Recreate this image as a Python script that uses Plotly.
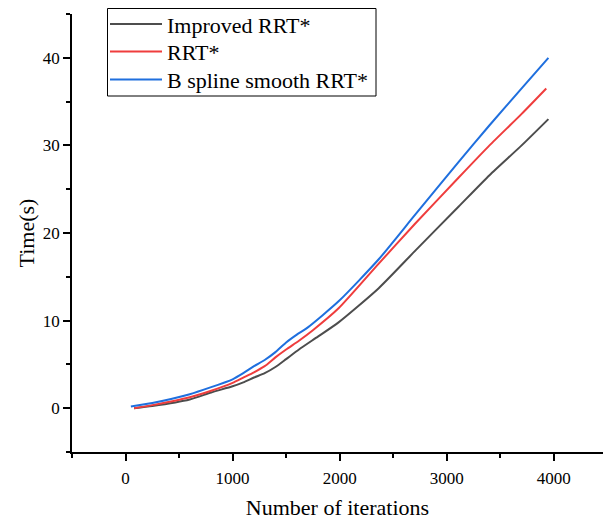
import plotly.graph_objects as go

# Data
improved_x = [80, 250, 600, 800, 1000, 1100, 1200, 1300, 1400, 1500, 1620, 1800, 1990, 2365, 2700, 3110, 3400, 3700, 3950]
improved_y = [0.0, 0.25, 1.0, 1.8, 2.5, 2.95, 3.5, 4.0, 4.7, 5.6, 6.7, 8.2, 9.8, 13.7, 17.9, 23.0, 26.6, 30.0, 33.0]

rrt_x = [80, 250, 600, 800, 1000, 1100, 1200, 1300, 1400, 1500, 1620, 1750, 1990, 2365, 2700, 3110, 3400, 3700, 3930]
rrt_y = [0.0, 0.35, 1.25, 2.0, 2.9, 3.5, 4.1, 4.8, 5.8, 6.7, 7.7, 8.9, 11.4, 16.5, 21.0, 26.3, 30.0, 33.6, 36.5]

bspline_x = [50, 250, 600, 800, 1000, 1100, 1200, 1300, 1400, 1500, 1600, 1700, 1990, 2365, 2700, 3110, 3400, 3700, 3950]
bspline_y = [0.2, 0.6, 1.6, 2.4, 3.3, 4.0, 4.8, 5.5, 6.4, 7.5, 8.4, 9.2, 12.2, 17.0, 22.0, 28.1, 32.3, 36.5, 40.0]

series_names = ["Improved RRT*", "RRT*", "B spline smooth RRT*"]
series_x = [improved_x, rrt_x, bspline_x]
series_y = [improved_y, rrt_y, bspline_y]
series_colors = ["#4d4d4d", "#ef3d3d", "#1f6fde"]

FONT = "Liberation Serif"

# plot-area geometry in pixels (used for the hand-made legend box)
W, H = 603, 524
ML, MR, MT, MB = 72, 0, 14, 72
PW, PH = W - ML - MR, H - MT - MB


def px(xp):
    return (xp - ML) / PW


def py(yp):
    return (H - MB - yp) / PH


fig = go.Figure()
for name, xs, ys, color in zip(series_names, series_x, series_y, series_colors):
    fig.add_trace(go.Scatter(
        x=xs, y=ys, name=name, mode="lines", showlegend=False,
        line=dict(color=color, width=2, shape="spline", smoothing=0.6),
    ))

# Legend drawn as a framed box with line samples and text
shapes = [dict(type="rect", xref="paper", yref="paper",
               x0=px(107.5), x1=px(376), y0=py(96), y1=py(8.5),
               line=dict(color="black", width=1), fillcolor="white", layer="above")]
annotations = []
row_y = [24, 51.5, 79.5]
for name, color, yr in zip(series_names, series_colors, row_y):
    shapes.append(dict(type="line", xref="paper", yref="paper",
                       x0=px(110), x1=px(162), y0=py(yr), y1=py(yr),
                       line=dict(color=color, width=2), layer="above"))
    annotations.append(dict(xref="paper", yref="paper", x=px(165), y=py(yr + 1),
                            xanchor="left", yanchor="middle", showarrow=False,
                            text=name, font=dict(family=FONT, size=22, color="black")))

fig.update_layout(
    width=W, height=H,
    margin=dict(l=ML, r=MR, t=MT, b=MB),
    plot_bgcolor="white", paper_bgcolor="white",
    font=dict(family=FONT, color="black", size=17),
    showlegend=False,
    shapes=shapes,
    annotations=annotations,
    xaxis=dict(
        range=[-500, 4460], tickmode="linear", tick0=0, dtick=1000,
        showgrid=False, zeroline=False, showline=True, linecolor="black", linewidth=1.5,
        ticks="outside", ticklen=7, tickwidth=1.5, tickcolor="black",
        minor=dict(ticks="outside", dtick=500, tick0=0, ticklen=4, tickwidth=1.5, tickcolor="black", showgrid=False),
        tickfont=dict(family=FONT, size=17),
        ticklabelstandoff=3,
        title=dict(text="Number of iterations", font=dict(family=FONT, size=22), standoff=12),
    ),
    yaxis=dict(
        range=[-5, 45], tickmode="linear", tick0=0, dtick=10,
        showgrid=False, zeroline=False, showline=True, linecolor="black", linewidth=1.5,
        ticks="outside", ticklen=7, tickwidth=1.5, tickcolor="black",
        minor=dict(ticks="outside", dtick=5, tick0=0, ticklen=4, tickwidth=1.5, tickcolor="black", showgrid=False),
        tickfont=dict(family=FONT, size=17),
        title=dict(text="Time(s)", font=dict(family=FONT, size=22), standoff=2),
    ),
)

fig.write_html("out.html")
